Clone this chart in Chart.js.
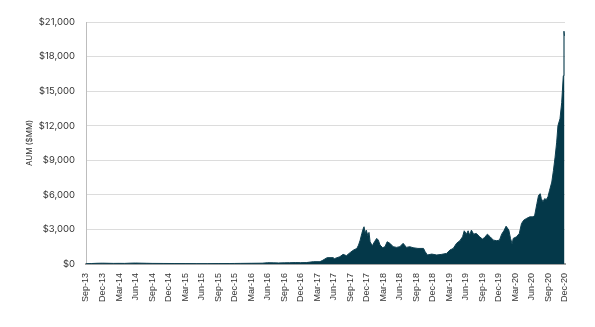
<!DOCTYPE html>
<html>
<head>
<meta charset="utf-8">
<script src="https://cdn.jsdelivr.net/npm/chart.js@4"></script>
<style>
  html, body { margin: 0; padding: 0; background: #fff; }
  #wrap { width: 595px; height: 327px; }
</style>
</head>
<body>
<div id="wrap"><canvas id="aumchart"></canvas></div>
<script>
// quarter labels along the bottom, one every 3 months starting Sep-13
const quarterLabels = [
  'Sep-13', 'Dec-13', 'Mar-14', 'Jun-14', 'Sep-14', 'Dec-14', 'Mar-15', 'Jun-15',
  'Sep-15', 'Dec-15', 'Mar-16', 'Jun-16', 'Sep-16', 'Dec-16', 'Mar-17', 'Jun-17',
  'Sep-17', 'Dec-17', 'Mar-18', 'Jun-18', 'Sep-18', 'Dec-18', 'Mar-19', 'Jun-19',
  'Sep-19', 'Dec-19', 'Mar-20', 'Jun-20', 'Sep-20', 'Dec-20'
];

// months since Sep-13 for each observation
const months = [
  0, 1, 2, 3, 4, 5, 6, 7, 8, 9, 10, 11, 12, 14, 16, 18, 20, 22, 24, 26,
  27, 28, 30, 32, 33, 34, 35, 36, 37, 38, 39, 40, 41.3, 42.5, 43.0, 43.8,
  44.9, 45.1, 46.1, 46.7, 47.3, 48.0, 48.6, 49.2, 49.5, 49.8, 50.1, 50.4,
  50.5, 50.7, 50.9, 51.2, 51.4, 51.6, 52.0, 52.4, 52.8, 53.1, 53.4, 53.9,
  54.3, 54.7, 55.2, 55.8, 56.4, 57.0, 57.6, 58.2, 58.8, 59.4, 60.3, 61.3,
  61.6, 62.0, 62.8, 63.7, 64.6, 65.5, 66.1, 66.7, 67.3, 67.9, 68.4, 68.7,
  69.1, 69.4, 69.7, 70.0, 70.4, 70.9, 71.5, 72.0, 72.4, 72.9, 73.4, 74.0,
  74.6, 75.1, 75.5, 75.9, 76.3, 76.8, 77.1, 77.4, 77.6, 78.2, 78.7, 79.1,
  79.5, 80.0, 80.6, 81.2, 81.5, 81.9, 82.2, 82.5, 82.7, 83.0, 83.3, 83.6,
  83.9, 84.2, 84.6, 84.9, 85.2, 85.49, 85.72, 86.09, 86.4, 86.69, 86.81, 86.9
];

// assets under management, $MM
const aum = [
  20, 40, 60, 70, 60, 50, 55, 50, 70, 80, 70, 60, 50, 45, 40, 35, 30, 30, 35, 40,
  45, 50, 60, 70, 110, 100, 90, 100, 110, 120, 115, 120, 200, 200, 320, 550,
  550, 460, 630, 835, 720, 1000, 1210, 1350, 1640, 2070, 2650, 3140,
  3230, 2650, 2940, 2450, 2740, 1930, 1580, 1930, 2220, 2070, 1640, 1410,
  1500, 1930, 1790, 1500, 1440, 1500, 1790, 1440, 1500, 1410, 1350, 1350,
  1070, 780, 860, 780, 835, 920, 1210, 1350, 1790, 2020, 2360, 2880,
  2590, 2880, 2500, 2940, 2590, 2650, 2360, 2160, 2300, 2590, 2360, 2070,
  2020, 2070, 2590, 2880, 3280, 2940, 2220, 1730, 2220, 2360, 2650, 3510,
  3800, 3950, 4090, 4090, 4230, 5240, 5960, 6100, 5670, 5390, 5670, 5590,
  5820, 6390, 7110, 8120, 9270, 10570, 12000, 12600, 14000, 16330, 20200, 19800
];

const yTicks = [0, 3000, 6000, 9000, 12000, 15000, 18000, 21000];

const ctx = document.getElementById('aumchart').getContext('2d');

new Chart(ctx, {
  type: 'line',
  data: {
    datasets: [{
      label: 'AUM',
      data: months.map((m, i) => ({ x: m, y: aum[i] })),
      fill: 'origin',
      backgroundColor: '#043849',
      borderColor: '#0d3f50',
      borderWidth: 1,
      pointRadius: 0,
      tension: 0
    }]
  },
  options: {
    responsive: true,
    maintainAspectRatio: false,
    animation: false,
    layout: { padding: { left: 0, right: 30, top: 22, bottom: 16 } },
    plugins: {
      legend: { display: false },
      tooltip: { enabled: false }
    },
    scales: {
      x: {
        type: 'linear',
        min: 0,
        max: 87,
        afterBuildTicks: scale => {
          scale.ticks = quarterLabels.map((_, i) => ({ value: i * 3 }));
        },
        ticks: {
          autoSkip: false,
          minRotation: 90,
          maxRotation: 90,
          padding: 9,
          color: '#333',
          font: { family: 'Liberation Sans', size: 9 },
          callback: (value) => quarterLabels[Math.round(value / 3)]
        },
        grid: { display: false, drawTicks: false },
        border: { display: true, color: '#a3a3a3', width: 2 }
      },
      y: {
        min: 0,
        max: 21000,
        afterBuildTicks: scale => {
          scale.ticks = yTicks.map(v => ({ value: v }));
        },
        afterFit: scale => { scale.width = 86; },
        ticks: {
          padding: 11,
          color: '#333',
          font: { family: 'Inter', size: 9.5 },
          callback: v => '$' + v.toLocaleString('en-US')
        },
        grid: { color: '#dcdcdc', lineWidth: 1, drawTicks: false },
        border: { display: true, color: '#bdbdbd', width: 1 },
        title: {
          display: true,
          text: 'AUM ($MM)',
          color: '#333',
          font: { family: 'Inter', size: 8 },
          padding: { top: 25, bottom: 0 }
        }
      }
    }
  }
});
</script>
</body>
</html>
